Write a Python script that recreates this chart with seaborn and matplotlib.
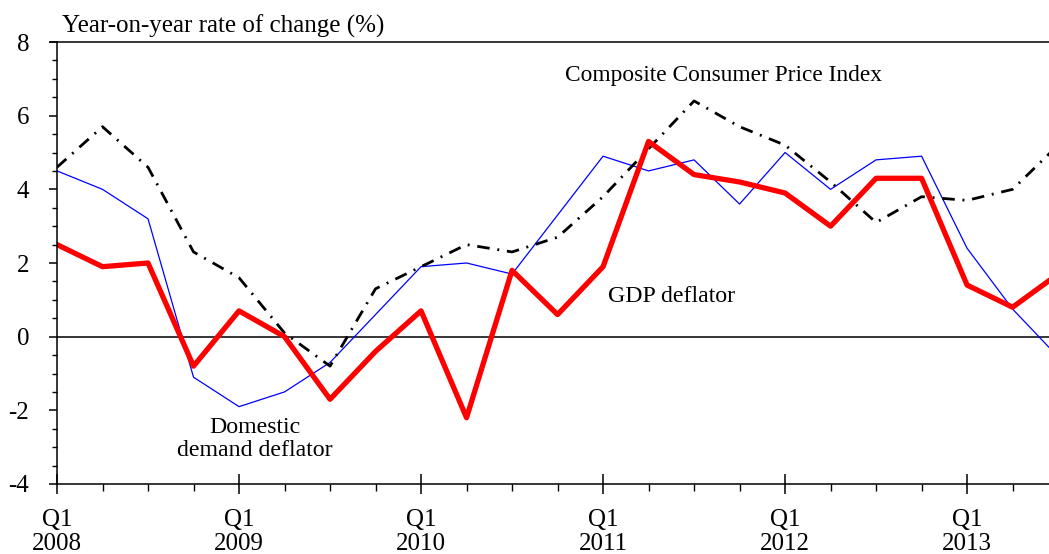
import matplotlib
matplotlib.use("Agg")
import matplotlib.pyplot as plt
from matplotlib.ticker import MultipleLocator, FixedLocator
import seaborn as sns
import pandas as pd
import numpy as np

quarters = ["2008Q1", "2008Q2", "2008Q3", "2008Q4",
            "2009Q1", "2009Q2", "2009Q3", "2009Q4",
            "2010Q1", "2010Q2", "2010Q3", "2010Q4",
            "2011Q1", "2011Q2", "2011Q3", "2011Q4",
            "2012Q1", "2012Q2", "2012Q3", "2012Q4",
            "2013Q1", "2013Q2", "2013Q3"]
gdp_deflator = [2.5, 1.9, 2.0, -0.8, 0.7, 0.0, -1.7, -0.4, 0.7, -2.2, 1.8, 0.6,
                1.9, 5.3, 4.4, 4.2, 3.9, 3.0, 4.3, 4.3, 1.4, 0.8, 1.7]
domestic_demand_deflator = [4.5, 4.0, 3.2, -1.1, -1.9, -1.5, -0.7, 0.6, 1.9, 2.0, 1.7, 3.3,
                            4.9, 4.5, 4.8, 3.6, 5.0, 4.0, 4.8, 4.9, 2.4, 0.75, -0.55]
composite_cpi = [4.6, 5.7, 4.6, 2.3, 1.6, 0.1, -0.8, 1.3, 1.9, 2.5, 2.3, 2.7,
                 3.8, 5.1, 6.4, 5.7, 5.2, 4.2, 3.1, 3.8, 3.7, 4.0, 5.2]
tick_labels = ["Q1\n2008", "Q1\n2009", "Q1\n2010", "Q1\n2011", "Q1\n2012", "Q1\n2013"]

df = pd.DataFrame({
    "t": np.arange(len(quarters)),
    "gdp": gdp_deflator,
    "dd": domestic_demand_deflator,
    "cpi": composite_cpi,
})

sns.set_style("ticks")
plt.rcParams["font.family"] = ["Liberation Serif", "DejaVu Serif"]
plt.rcParams["axes.unicode_minus"] = False
plt.rcParams["text.color"] = "black"

FS = 18
W, H = 1049, 554
fig = plt.figure(figsize=(W / 100, H / 100), dpi=100)
ax = fig.add_axes([57 / W, 1 - 484 / H, 1 - 57 / W, (484 - 42) / H])

sns.lineplot(data=df, x="t", y="dd", ax=ax, color="#0000ff", linewidth=0.9)
sns.lineplot(data=df, x="t", y="cpi", ax=ax, color="black", linewidth=2.0,
             linestyle=(0, (4.5, 2.8, 0.7, 2.8)))
sns.lineplot(data=df, x="t", y="gdp", ax=ax, color="#ff0000", linewidth=3.8)

ax.axhline(0, color="black", linewidth=1.1, zorder=1)

ax.set_xlim(0, 21.8)
ax.set_ylim(-4, 8)
ax.set_xlabel("")
ax.set_ylabel("")

ax.xaxis.set_major_locator(FixedLocator([0, 4, 8, 12, 16, 20]))
ax.set_xticklabels(tick_labels)
ax.xaxis.set_minor_locator(MultipleLocator(1))
ax.yaxis.set_major_locator(MultipleLocator(2))
ax.yaxis.set_minor_locator(MultipleLocator(0.5))

ax.tick_params(axis="x", which="major", direction="inout", length=14, width=1.1,
               labelsize=FS, pad=11, colors="black", labelcolor="black")
ax.tick_params(axis="x", which="minor", direction="out", length=5, width=1.0, colors="black")
ax.tick_params(axis="y", which="major", direction="out", length=6, width=1.1,
               labelsize=FS, pad=14, colors="black", labelcolor="black")
ax.tick_params(axis="y", which="minor", direction="out", length=3.5, width=1.0, colors="black")
for lab in ax.get_xticklabels():
    lab.set_linespacing(1.12)

for s in ["left", "bottom", "top"]:
    ax.spines[s].set_linewidth(1.1)
    ax.spines[s].set_color("black")
ax.spines["right"].set_visible(False)

# extend top line to the left like the reference
ax.plot([-0.15, 0], [8, 8], color="black", linewidth=1.1, clip_on=False)

fig.text(62 / W, 1 - 26 / H, "Year-on-year rate of change (%)", fontsize=FS,
         ha="left", va="center")
ax.text(14.65, 7.1, "Composite Consumer Price Index", fontsize=16.8, ha="center", va="center")
ax.text(12.1, 1.1, "GDP deflator", fontsize=17.2, ha="left", va="center")
ax.text(4.35, -2.78, "Domestic\ndemand deflator", fontsize=17.2, ha="center", va="center",
        linespacing=1.15)

fig.savefig("out.png", dpi=100)
